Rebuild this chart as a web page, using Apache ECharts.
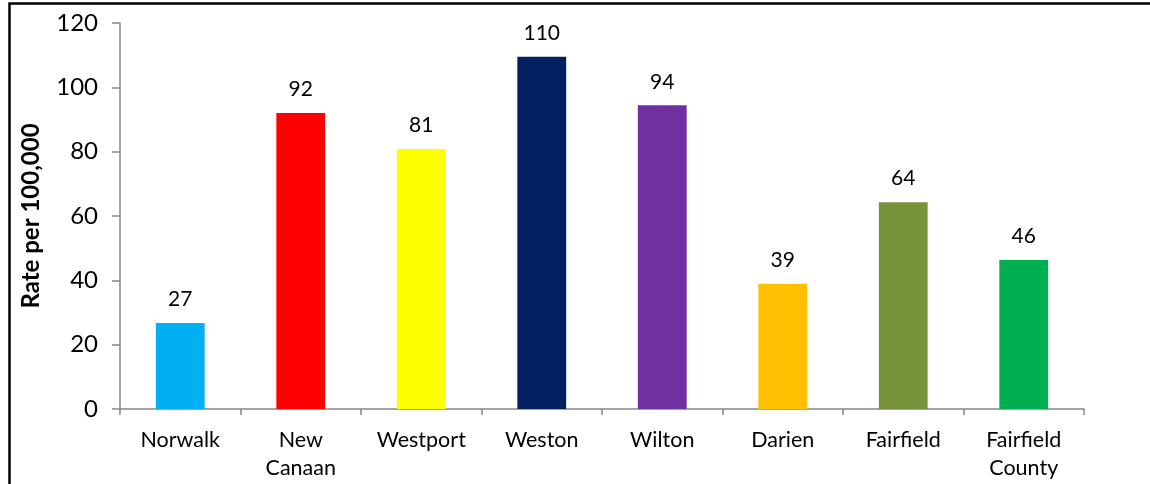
<!DOCTYPE html>
<html>
<head>
<meta charset="utf-8">
<script src="https://cdn.jsdelivr.net/npm/echarts@6/dist/echarts.min.js"></script>
<style>
html,body{margin:0;padding:0;background:#fff;}
#chart{width:1150px;height:484px;}
</style>
</head>
<body>
<div id="chart"></div>
<script>
const categories = ['Norwalk', 'New\nCanaan', 'Westport', 'Weston', 'Wilton', 'Darien', 'Fairfield', 'Fairfield\nCounty'];
const rates = [26.7, 92.0, 80.8, 109.5, 94.4, 38.9, 64.3, 46.3];
const barColors = ['#00B0F0', '#FF0000', '#FFFF00', '#002060', '#7030A0', '#FFC000', '#77933C', '#00B050'];
const yTicks = [0, 20, 40, 60, 80, 100, 120];

const chart = echarts.init(document.getElementById('chart'), null, {renderer: 'canvas'});
const font = 'Lato, "Open Sans", sans-serif';
chart.setOption({
  animation: false,
  backgroundColor: '#ffffff',
  grid: {left: 120, right: 66, top: 23, bottom: 75},
  graphic: [{
    type: 'rect',
    shape: {x: 9.5, y: 3.5, width: 1300, height: 700},
    style: {fill: 'none', stroke: '#000', lineWidth: 2.5},
    silent: true
  }],
  xAxis: {
    type: 'category',
    data: categories,
    axisLine: {lineStyle: {color: '#868686', width: 1.5}},
    axisTick: {show: true, interval: 0, length: 6, lineStyle: {color: '#868686', width: 1.5}},
    axisLabel: {interval: 0, color: '#000', fontFamily: font, fontSize: 21.5, lineHeight: 28, margin: 17}
  },
  yAxis: {
    type: 'value',
    min: yTicks[0],
    max: yTicks[yTicks.length - 1],
    interval: 20,
    name: 'Rate per 100,000',
    nameLocation: 'middle',
    nameGap: 77,
    nameTextStyle: {color: '#000', fontFamily: font, fontSize: 24, fontWeight: 'bold'},
    axisLine: {show: true, lineStyle: {color: '#868686', width: 1.5}},
    axisTick: {show: true, length: 8, lineStyle: {color: '#868686', width: 1.5}},
    splitLine: {show: false},
    axisLabel: {color: '#000', fontFamily: font, fontSize: 24, margin: 22}
  },
  series: [{
    type: 'bar',
    data: rates.map((v, i) => ({value: v, itemStyle: {color: barColors[i]}})),
    barWidth: '40.5%',
    label: {
      show: true,
      position: 'top',
      distance: 13,
      color: '#000',
      fontFamily: font,
      fontSize: 21,
      formatter: p => Math.round(p.value)
    }
  }]
});
</script>
</body>
</html>
